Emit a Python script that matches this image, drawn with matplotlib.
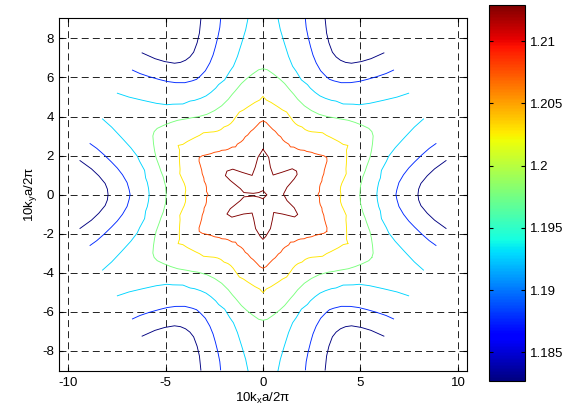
import numpy as np
import matplotlib
matplotlib.use("Agg")
import matplotlib.pyplot as plt
from matplotlib import colors
from matplotlib.cm import ScalarMappable

plt.rcParams['font.family'] = ['Liberation Sans', 'DejaVu Sans']
plt.rcParams['mathtext.default'] = 'regular'
plt.rcParams['axes.unicode_minus'] = False
plt.rcParams['lines.scale_dashes'] = False

# contour levels (low -> high), colour range of the bar
levels = [1.1827, 1.1877, 1.1928, 1.1978, 1.2028, 1.2078, 1.2129]
cmin, cmax = 1.1827, 1.2129
cbar_ticks = [1.185, 1.19, 1.195, 1.2, 1.205, 1.21]
cbar_labels = ['1.185', '1.19', '1.195', '1.2', '1.205', '1.21']

# open arcs around the six K corners: angle from the K direction (deg), radius
arc0_phi = [0, 2, 4, 6.5, 8.5, 10.5]
arc0_r = [7.95, 7.99, 8.12, 8.48, 8.9, 9.55]
arc1_phi = [0, 2, 5, 8, 10.3, 12.1, 14, 15.5, 16.4]
arc1_r = [6.82, 6.87, 7.0, 7.28, 7.6, 7.95, 8.4, 8.85, 9.25]
arc2_phi = [0, 3, 6, 8, 11.5, 15, 17, 19.5, 22, 24, 25.2]
arc2_r = [5.84, 5.88, 5.97, 6.08, 6.2, 6.55, 6.75, 7.2, 7.85, 8.5, 9.1]

# closed rings, K direction (0 deg) to M direction (30 deg)
ring3_phi = [0, 5, 10, 13, 15, 19, 22, 25, 28, 30]
ring3_r = [4.97, 5.02, 5.2, 5.38, 5.5, 5.8, 6.0, 6.2, 6.4, 6.45]
ring4_phi = [0, 3, 5.5, 8, 10, 14, 17, 20, 25, 28, 30]
ring4_r = [4.0, 3.97, 4.0, 4.08, 4.18, 4.4, 4.45, 4.55, 4.74, 4.85, 5.03]
ring5_phi = [0, 3, 7.5, 10, 13, 15.5, 19, 21.5, 25, 27.5, 30]
ring5_r = [2.82, 2.9, 2.93, 2.98, 3.1, 3.15, 3.3, 3.38, 3.55, 3.7, 3.78]

# innermost star contour
star_x = [0, 0.29, 0.38, 0.52, 0.97, 1.5, 1.72, 1.75, 1.6, 1.23, 1.05, 1.23,
          1.6, 1.78, 1.62, 1.0, 0.55, 0.48, 0.38, 0.14, 0, -0.14, -0.38,
          -0.48, -0.56, -1.0, -1.6, -1.85, -1.68, -1.16, -0.98, -0.5, -0.22,
          0.0, 0.2, 0.0, -0.22, -0.5, -0.98, -1.16, -1.68, -1.93, -1.85,
          -1.55, -1.08, -0.56, -0.4, -0.26, 0]
star_y = [2.32, 1.91, 1.4, 1.0, 1.14, 1.32, 1.2, 1.03, 0.8, 0.37, 0.02, -0.31,
          -0.68, -1.02, -1.15, -1.0, -0.92, -1.3, -1.75, -2.15, -2.3, -2.15,
          -1.75, -1.25, -0.95, -1.0, -1.16, -1.0, -0.73, -0.31, -0.12, -0.08,
          -0.13, -0.22, -0.02, 0.2, 0.1, 0.06, 0.1, 0.3, 0.72, 0.97, 1.2,
          1.3, 1.14, 0.98, 1.4, 1.91, 2.32]


def arc_xy(phi, r, k):
    phi = np.asarray(phi, float)
    r = np.asarray(r, float)
    ang = np.concatenate([-phi[::-1], phi[1:]])
    rr = np.concatenate([r[::-1], r[1:]])
    t = np.deg2rad(60 * k + ang)
    return rr * np.cos(t), rr * np.sin(t)


def ring_xy(phi, r):
    phi = np.asarray(phi, float)
    r = np.asarray(r, float)
    ang, rr = [], []
    for k in range(6):
        ang += list(60 * k - phi[::-1][:-1]) + list(60 * k + phi)
        rr += list(r[::-1][:-1]) + list(r)
    ang.append(ang[0])
    rr.append(rr[0])
    t = np.deg2rad(ang)
    return np.array(rr) * np.cos(t), np.array(rr) * np.sin(t)


cmap = plt.get_cmap('jet')
norm = colors.Normalize(cmin, cmax)

fig = plt.figure(figsize=(5.65, 4.18), dpi=100)
ax = fig.add_axes([0.105, 0.1124, 0.721, 0.8445])

lw = 0.65
for lev, (phi, r) in zip(levels[:3], [(arc0_phi, arc0_r), (arc1_phi, arc1_r),
                                      (arc2_phi, arc2_r)]):
    for k in range(6):
        x, y = arc_xy(phi, r, k)
        ax.plot(x, y, color=cmap(norm(lev)), lw=lw)

for lev, (phi, r) in zip(levels[3:6], [(ring3_phi, ring3_r), (ring4_phi, ring4_r),
                                       (ring5_phi, ring5_r)]):
    x, y = ring_xy(phi, r)
    ax.plot(x, y, color=cmap(norm(lev)), lw=lw)

ax.plot(star_x, star_y, color=cmap(norm(levels[6])), lw=lw)

ax.set_xlim(-10.45, 10.45)
ax.set_ylim(-9.05, 9.05)
ax.set_xticks([-10, -5, 0, 5, 10])
ax.set_yticks(np.arange(-8, 9, 2))
ax.grid(True, color='#222222', lw=0.7, linestyle=(0, (5, 3)))
ax.tick_params(direction='in', length=3, top=True, right=True, labelsize=9.5,
               pad=4)
for s in ax.spines.values():
    s.set_linewidth(0.8)
ax.set_xlabel('10k$_x$a/2π', fontsize=9.5, labelpad=2)
ax.set_ylabel('10k$_y$a/2π', fontsize=9.5, labelpad=2)

cax = fig.add_axes([0.8655, 0.0885, 0.0637, 0.8995])
cb = fig.colorbar(ScalarMappable(norm=norm, cmap=cmap), cax=cax)
cb.set_ticks(cbar_ticks)
cb.set_ticklabels(cbar_labels)
cb.ax.tick_params(direction='in', length=3, labelsize=9.5, left=True)
cb.outline.set_linewidth(0.8)

fig.savefig('out.png', dpi=100)
